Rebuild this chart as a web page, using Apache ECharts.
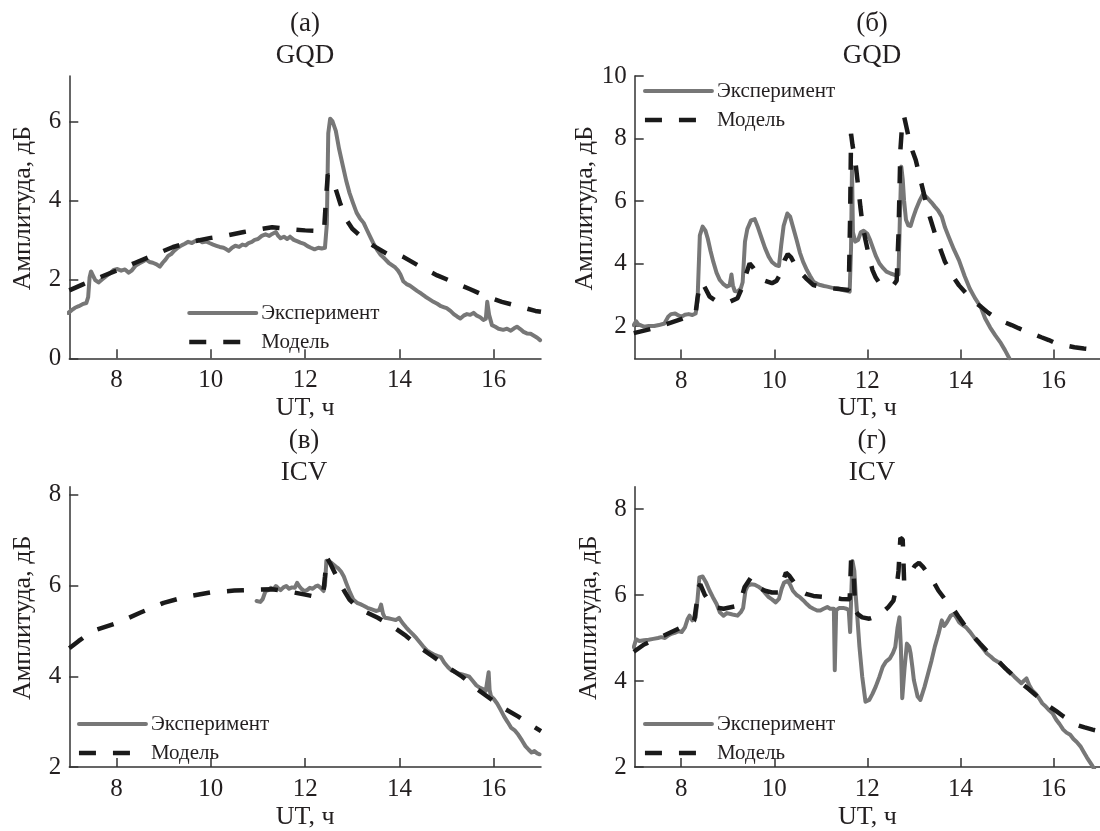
<!DOCTYPE html>
<html>
<head>
<meta charset="utf-8">
<script src="https://cdn.jsdelivr.net/npm/echarts@6/dist/echarts.min.js"></script>
<style>
html,body{margin:0;padding:0;background:#fff;}
#c{width:1100px;height:831px;}
</style>
</head>
<body>
<div id="c"></div>
<script>
// ---- data (UT hours, amplitude dB) ----
const panelLabels = ['(а)\nGQD', '(б)\nGQD', '(в)\nICV', '(г)\nICV'];
const seriesNames = ['Эксперимент', 'Модель'];
const xTicks = [8, 10, 12, 14, 16];
const yTicksA = [0, 2, 4, 6];
const yTicksB = [2, 4, 6, 8, 10];
const yTicksC = [2, 4, 6, 8];
const yTicksD = [2, 4, 6, 8];

const expA = [[6.98,1.15],[7.05,1.22],[7.12,1.28],[7.2,1.32],[7.28,1.37],[7.36,1.4],[7.4,1.55],[7.43,2.05],[7.46,2.2],[7.5,2.1],[7.55,1.98],[7.62,1.92],[7.7,2.0],[7.78,2.08],[7.86,2.15],[7.94,2.24],[8.02,2.26],[8.1,2.22],[8.18,2.25],[8.26,2.17],[8.32,2.22],[8.4,2.34],[8.48,2.4],[8.56,2.45],[8.63,2.5],[8.7,2.44],[8.77,2.42],[8.85,2.38],[8.92,2.32],[8.98,2.42],[9.04,2.5],[9.1,2.6],[9.16,2.64],[9.22,2.72],[9.3,2.8],[9.38,2.86],[9.45,2.9],[9.52,2.95],[9.6,2.92],[9.67,2.97],[9.74,3.0],[9.82,2.94],[9.9,2.96],[9.97,2.92],[10.05,2.88],[10.12,2.85],[10.19,2.82],[10.27,2.8],[10.33,2.76],[10.38,2.72],[10.45,2.8],[10.52,2.85],[10.6,2.82],[10.67,2.88],[10.74,2.86],[10.8,2.92],[10.87,2.95],[10.93,3.0],[11.0,3.02],[11.08,3.1],[11.16,3.14],[11.24,3.1],[11.3,3.15],[11.38,3.2],[11.43,3.1],[11.48,3.04],[11.55,3.08],[11.62,3.02],[11.68,3.08],[11.76,3.0],[11.84,2.96],[11.9,2.93],[11.98,2.9],[12.05,2.84],[12.12,2.8],[12.2,2.76],[12.28,2.8],[12.35,2.78],[12.42,2.8],[12.46,3.4],[12.49,5.7],[12.53,6.07],[12.58,6.0],[12.65,5.76],[12.72,5.3],[12.8,4.87],[12.87,4.5],[12.94,4.19],[13.01,3.95],[13.09,3.69],[13.16,3.55],[13.24,3.43],[13.31,3.25],[13.39,3.05],[13.46,2.88],[13.54,2.72],[13.6,2.62],[13.69,2.52],[13.77,2.42],[13.84,2.36],[13.91,2.3],[13.97,2.22],[14.02,2.12],[14.08,1.95],[14.15,1.88],[14.22,1.84],[14.3,1.77],[14.38,1.7],[14.46,1.64],[14.55,1.56],[14.63,1.5],[14.72,1.43],[14.8,1.38],[14.88,1.32],[14.95,1.29],[15.0,1.27],[15.08,1.2],[15.15,1.12],[15.22,1.06],[15.29,1.01],[15.36,1.08],[15.43,1.12],[15.5,1.1],[15.57,1.15],[15.64,1.08],[15.71,1.04],[15.78,0.97],[15.83,1.0],[15.86,1.43],[15.9,1.1],[15.96,0.84],[16.03,0.8],[16.1,0.75],[16.2,0.72],[16.28,0.75],[16.36,0.7],[16.43,0.76],[16.49,0.8],[16.56,0.74],[16.63,0.67],[16.7,0.63],[16.78,0.62],[16.85,0.57],[16.92,0.52],[16.98,0.46]];
const modelA = [[7.0,1.72],[7.3,1.88],[7.6,2.03],[8.0,2.22],[8.4,2.42],[8.8,2.62],[9.2,2.82],[9.6,2.95],[10.0,3.05],[10.3,3.1],[10.7,3.2],[11.1,3.28],[11.3,3.32],[11.6,3.28],[12.0,3.24],[12.4,3.22],[12.44,4.0],[12.48,4.66],[12.55,4.55],[12.65,4.28],[12.75,3.9],[12.87,3.52],[13.0,3.28],[13.17,3.1],[13.46,2.84],[13.76,2.63],[13.9,2.66],[14.08,2.57],[14.5,2.28],[14.8,2.1],[15.18,1.91],[15.5,1.75],[15.85,1.56],[16.17,1.43],[16.52,1.32],[16.88,1.2],[17.0,1.18]];

const expB = [[6.98,2.03],[7.03,2.15],[7.08,2.05],[7.2,1.98],[7.3,2.0],[7.42,2.0],[7.52,2.03],[7.64,2.08],[7.72,2.3],[7.78,2.38],[7.87,2.4],[7.95,2.33],[8.01,2.3],[8.08,2.36],[8.16,2.38],[8.24,2.35],[8.31,2.4],[8.35,2.8],[8.4,4.9],[8.46,5.18],[8.52,5.05],[8.57,4.8],[8.63,4.4],[8.69,4.05],[8.76,3.7],[8.83,3.47],[8.9,3.35],[8.98,3.26],[9.04,3.3],[9.08,3.65],[9.11,3.3],[9.15,3.12],[9.21,3.1],[9.28,3.2],[9.32,3.4],[9.37,4.7],[9.42,5.1],[9.5,5.38],[9.58,5.42],[9.65,5.15],[9.73,4.8],[9.8,4.5],[9.88,4.22],[9.95,4.05],[10.03,3.95],[10.1,3.92],[10.15,4.6],[10.2,5.2],[10.28,5.6],[10.34,5.5],[10.4,5.18],[10.48,4.75],[10.55,4.35],[10.62,4.05],[10.7,3.79],[10.77,3.6],[10.84,3.42],[10.92,3.35],[10.99,3.31],[11.07,3.28],[11.14,3.26],[11.25,3.22],[11.37,3.2],[11.5,3.14],[11.62,3.1],[11.65,4.5],[11.67,7.1],[11.69,5.0],[11.74,4.7],[11.8,4.75],[11.86,5.0],[11.92,5.05],[12.0,4.95],[12.06,4.75],[12.11,4.54],[12.18,4.25],[12.26,4.0],[12.34,3.85],[12.41,3.74],[12.5,3.68],[12.6,3.63],[12.67,3.65],[12.7,5.5],[12.73,7.1],[12.76,6.7],[12.79,6.0],[12.83,5.4],[12.88,5.22],[12.93,5.2],[12.98,5.45],[13.04,5.71],[13.12,6.0],[13.19,6.2],[13.25,6.15],[13.3,6.08],[13.38,5.95],[13.45,5.82],[13.52,5.7],[13.6,5.5],[13.67,5.15],[13.75,4.85],[13.86,4.45],[13.97,4.1],[14.09,3.6],[14.2,3.2],[14.31,2.9],[14.44,2.6],[14.53,2.25],[14.64,1.95],[14.75,1.7],[14.87,1.45],[14.96,1.22],[15.05,0.97]];
const modelB = [[6.98,1.77],[7.42,1.93],[8.0,2.22],[8.31,2.42],[8.35,2.9],[8.4,3.3],[8.45,3.4],[8.52,3.2],[8.61,2.94],[8.75,2.8],[8.91,2.73],[9.05,2.78],[9.21,2.89],[9.3,3.2],[9.38,3.6],[9.47,4.0],[9.53,3.9],[9.65,3.63],[9.8,3.45],[9.95,3.37],[10.05,3.45],[10.14,3.69],[10.22,4.1],[10.29,4.3],[10.36,4.2],[10.45,3.95],[10.55,3.74],[10.7,3.5],[10.84,3.31],[11.05,3.24],[11.29,3.2],[11.6,3.15],[11.63,5.5],[11.65,8.15],[11.68,7.8],[11.74,7.3],[11.8,6.5],[11.85,5.82],[11.9,5.2],[11.96,4.75],[12.04,4.2],[12.11,3.79],[12.18,3.55],[12.26,3.37],[12.4,3.32],[12.56,3.31],[12.63,3.45],[12.67,4.97],[12.71,7.63],[12.75,8.5],[12.79,8.7],[12.85,8.3],[12.9,7.95],[12.97,7.6],[13.04,7.31],[13.13,6.75],[13.23,6.14],[13.34,5.5],[13.45,4.97],[13.56,4.5],[13.67,4.05],[13.77,3.8],[13.87,3.52],[13.97,3.3],[14.12,3.05],[14.27,2.8],[14.44,2.62],[14.6,2.42],[14.72,2.3],[14.9,2.15],[15.1,2.03],[15.25,1.93],[15.42,1.82],[15.6,1.72],[15.74,1.64],[15.9,1.55],[16.05,1.45],[16.25,1.38],[16.45,1.32],[16.65,1.28],[16.84,1.25],[17.0,1.23]];

const expC = [[10.97,5.66],[11.05,5.64],[11.1,5.7],[11.16,5.88],[11.22,5.9],[11.27,5.95],[11.33,5.92],[11.38,5.99],[11.43,5.94],[11.48,5.9],[11.54,5.96],[11.6,5.99],[11.66,5.93],[11.72,5.96],[11.78,5.95],[11.83,6.06],[11.88,5.98],[11.93,5.92],[11.98,5.88],[12.04,5.9],[12.1,5.95],[12.16,5.93],[12.22,5.98],[12.27,6.0],[12.33,5.95],[12.39,5.88],[12.42,6.0],[12.45,6.55],[12.5,6.53],[12.56,6.5],[12.65,6.42],[12.7,6.38],[12.76,6.31],[12.82,6.2],[12.87,6.06],[12.95,5.85],[13.02,5.69],[13.1,5.62],[13.17,5.59],[13.25,5.55],[13.32,5.51],[13.4,5.48],[13.5,5.44],[13.57,5.46],[13.61,5.58],[13.65,5.38],[13.69,5.29],[13.76,5.28],[13.84,5.26],[13.92,5.24],[13.99,5.29],[14.06,5.18],[14.14,5.08],[14.21,5.0],[14.28,4.93],[14.36,4.84],[14.43,4.75],[14.5,4.66],[14.58,4.57],[14.66,4.52],[14.73,4.48],[14.8,4.45],[14.88,4.42],[14.95,4.3],[15.03,4.2],[15.1,4.13],[15.18,4.1],[15.25,4.06],[15.33,4.04],[15.4,4.02],[15.48,3.99],[15.55,3.9],[15.63,3.8],[15.7,3.75],[15.77,3.72],[15.83,3.68],[15.87,3.7],[15.89,4.09],[15.91,3.7],[15.94,3.56],[16.0,3.5],[16.07,3.4],[16.15,3.25],[16.22,3.11],[16.3,2.98],[16.37,2.86],[16.45,2.8],[16.52,2.71],[16.6,2.58],[16.67,2.46],[16.74,2.38],[16.8,2.32],[16.86,2.35],[16.92,2.3],[16.97,2.28]];
const modelC = [[7.0,4.62],[7.2,4.78],[7.5,5.0],[8.0,5.17],[8.5,5.4],[9.0,5.62],[9.5,5.76],[10.0,5.85],[10.5,5.89],[11.0,5.91],[11.3,5.92],[11.6,5.88],[12.0,5.8],[12.2,5.76],[12.38,5.8],[12.42,6.2],[12.46,6.62],[12.53,6.49],[12.62,6.3],[12.72,6.09],[12.83,5.88],[12.94,5.69],[13.08,5.55],[13.24,5.44],[13.54,5.29],[13.84,5.11],[14.14,4.89],[14.43,4.64],[14.73,4.42],[15.03,4.2],[15.33,3.99],[15.63,3.73],[15.92,3.51],[16.22,3.29],[16.52,3.11],[16.75,2.95],[17.0,2.79]];

const expD = [[6.98,4.79],[7.03,4.97],[7.1,4.93],[7.2,4.95],[7.3,4.96],[7.4,4.98],[7.5,5.0],[7.57,5.02],[7.65,5.0],[7.72,5.06],[7.79,5.1],[7.86,5.12],[7.94,5.16],[8.01,5.14],[8.08,5.25],[8.14,5.45],[8.18,5.52],[8.24,5.41],[8.31,5.48],[8.35,5.9],[8.39,6.41],[8.46,6.43],[8.53,6.3],[8.61,6.1],[8.68,5.95],[8.76,5.79],[8.83,5.6],[8.91,5.52],[8.98,5.58],[9.06,5.56],[9.13,5.54],[9.21,5.52],[9.28,5.6],[9.33,5.7],[9.38,6.1],[9.43,6.22],[9.5,6.25],[9.58,6.24],[9.65,6.2],[9.73,6.14],[9.8,6.05],[9.88,5.95],[9.95,5.9],[10.03,5.83],[10.1,5.91],[10.16,6.15],[10.21,6.29],[10.29,6.33],[10.35,6.22],[10.4,6.1],[10.48,6.0],[10.55,5.95],[10.62,5.88],[10.7,5.79],[10.77,5.72],[10.84,5.68],[10.92,5.64],[10.99,5.64],[11.06,5.68],[11.14,5.72],[11.2,5.68],[11.28,5.68],[11.3,4.25],[11.33,5.65],[11.4,5.7],[11.48,5.7],[11.55,5.68],[11.6,5.65],[11.63,5.14],[11.66,6.2],[11.68,6.79],[11.72,6.56],[11.75,6.0],[11.78,5.56],[11.83,4.8],[11.89,4.1],[11.96,3.52],[12.04,3.56],[12.11,3.7],[12.18,3.87],[12.26,4.1],[12.33,4.33],[12.4,4.45],[12.48,4.52],[12.55,4.65],[12.6,4.79],[12.65,5.25],[12.69,5.48],[12.72,4.8],[12.75,3.6],[12.77,3.56],[12.8,4.3],[12.85,4.87],[12.9,4.8],[12.93,4.64],[12.97,4.3],[13.0,4.02],[13.08,3.64],[13.14,3.56],[13.23,3.87],[13.3,4.15],[13.38,4.48],[13.45,4.8],[13.53,5.1],[13.6,5.41],[13.65,5.28],[13.7,5.35],[13.79,5.52],[13.86,5.56],[13.93,5.45],[13.97,5.37],[14.05,5.3],[14.12,5.25],[14.2,5.15],[14.27,5.05],[14.34,4.95],[14.42,4.85],[14.5,4.74],[14.57,4.64],[14.65,4.57],[14.72,4.5],[14.8,4.45],[14.87,4.41],[14.95,4.3],[15.02,4.24],[15.09,4.18],[15.16,4.1],[15.24,4.02],[15.31,3.95],[15.36,4.0],[15.42,4.06],[15.48,3.9],[15.54,3.79],[15.62,3.7],[15.69,3.6],[15.76,3.48],[15.84,3.4],[15.91,3.32],[15.98,3.25],[16.06,3.1],[16.13,3.0],[16.21,2.87],[16.28,2.8],[16.36,2.75],[16.43,2.65],[16.5,2.58],[16.58,2.48],[16.65,2.35],[16.72,2.22],[16.78,2.12],[16.84,2.02],[16.9,1.9]];
const modelD = [[6.98,4.68],[7.2,4.85],[7.42,4.95],[7.79,5.14],[8.16,5.33],[8.28,5.41],[8.33,5.8],[8.37,6.18],[8.41,6.25],[8.5,6.02],[8.6,5.85],[8.69,5.72],[8.91,5.68],[9.21,5.75],[9.3,5.95],[9.36,6.18],[9.5,6.41],[9.58,6.3],[9.65,6.18],[9.8,6.1],[9.95,6.06],[10.1,6.06],[10.18,6.3],[10.25,6.52],[10.32,6.45],[10.4,6.33],[10.55,6.1],[10.7,6.02],[10.84,5.98],[11.14,5.95],[11.44,5.91],[11.62,5.9],[11.65,6.8],[11.68,6.79],[11.7,6.64],[11.74,5.64],[11.8,5.55],[11.89,5.48],[12.04,5.45],[12.18,5.5],[12.33,5.6],[12.45,5.72],[12.56,5.87],[12.63,6.2],[12.67,6.56],[12.71,7.33],[12.76,7.29],[12.79,6.33],[12.85,6.35],[12.93,6.52],[13.02,6.68],[13.11,6.75],[13.2,6.65],[13.26,6.56],[13.4,6.35],[13.53,6.1],[13.67,5.9],[13.82,5.72],[13.97,5.48],[14.12,5.25],[14.27,5.05],[14.42,4.87],[14.57,4.7],[14.72,4.56],[14.87,4.4],[15.01,4.25],[15.16,4.1],[15.31,3.95],[15.46,3.82],[15.61,3.68],[15.76,3.55],[15.91,3.41],[16.06,3.3],[16.21,3.18],[16.36,3.08],[16.5,2.98],[16.67,2.92],[16.84,2.87],[17.0,2.83]];

// ---- layout ----
const FONT = "'Liberation Serif', 'DejaVu Serif', serif";
const TXT = '#231f20';
const grids = [
  {left: 69.3, top: 76, width: 471.7, height: 282.3},
  {left: 634.7, top: 76, width: 473, height: 282.5},
  {left: 69.3, top: 486.7, width: 471.7, height: 283.3},
  {left: 634.7, top: 486.7, width: 473, height: 282.6}
];
const yRanges = [[0, 7.15], [0.96, 10], [2, 8.18], [2, 8.52]];
const yTicks = [yTicksA, yTicksB, yTicksC, yTicksD];
const expData = [expA, expB, expC, expD];
const modelData = [modelA, modelB, modelC, modelD];
const titleX = [305, 872, 304, 872];
const titleY = [8, 8, 425, 425];
const legendPos = [[187, 301], [642.7, 79], [76.7, 712], [642.7, 712]];

const axisLineStyle = {color: '#333', width: 1.5};

const option = {
  animation: false,
  backgroundColor: '#fff',
  title: panelLabels.map((t, i) => ({
    text: t, left: titleX[i], top: titleY[i], textAlign: 'center', padding: 0,
    textStyle: {fontFamily: FONT, fontSize: 27, fontWeight: 'normal', color: TXT, lineHeight: 32}
  })),
  legend: legendPos.map((p, i) => ({
    data: seriesNames, orient: 'vertical', left: p[0], top: p[1], padding: 0,
    itemWidth: 67, itemHeight: 14, itemGap: 5, selectedMode: false,
    lineStyle: {width: 'inherit'},
    itemStyle: {opacity: 0, borderWidth: 0},
    textStyle: {fontFamily: FONT, fontSize: 21, color: TXT, lineHeight: 24}
  })),
  grid: grids.map(g => Object.assign({containLabel: false}, g)),
  xAxis: grids.map((g, i) => ({
    type: 'value', gridIndex: i, min: 7, max: 17,
    name: 'UT, ч', nameLocation: 'middle', nameGap: 37,
    nameTextStyle: {fontFamily: FONT, fontSize: 26, color: TXT},
    axisLine: {show: true, onZero: false, lineStyle: axisLineStyle},
    axisTick: {show: true, inside: true, length: 9, customValues: xTicks, lineStyle: axisLineStyle},
    axisLabel: {show: true, customValues: xTicks, margin: 10, fontFamily: FONT, fontSize: 25, color: TXT},
    splitLine: {show: false}
  })),
  yAxis: grids.map((g, i) => ({
    type: 'value', gridIndex: i, min: yRanges[i][0], max: yRanges[i][1],
    name: 'Амплитуда, дБ', nameLocation: 'middle', nameGap: 33,
    nameTextStyle: {fontFamily: FONT, fontSize: 26, color: TXT, padding: [0, 0, 0, 18]},
    axisLine: {show: true, onZero: false, lineStyle: axisLineStyle},
    axisTick: {show: true, inside: true, length: 9, customValues: yTicks[i], lineStyle: axisLineStyle},
    axisLabel: {show: true, customValues: yTicks[i], margin: 8, fontFamily: FONT, fontSize: 25, color: TXT},
    splitLine: {show: false}
  })),
  series: []
};

for (let i = 0; i < 4; i++) {
  option.series.push({
    name: seriesNames[0], type: 'line', xAxisIndex: i, yAxisIndex: i,
    data: expData[i], showSymbol: false, symbol: 'none', smooth: false, clip: true, z: 2,
    lineStyle: {color: '#777', width: 4, cap: 'round', join: 'round'},
    itemStyle: {color: '#777'}
  });
  option.series.push({
    name: seriesNames[1], type: 'line', xAxisIndex: i, yAxisIndex: i,
    data: modelData[i], showSymbol: false, symbol: 'none', smooth: false, clip: true, z: 3,
    lineStyle: {color: '#1a1a1a', width: 4.5, type: [17, 17], cap: 'butt'},
    itemStyle: {color: '#1a1a1a'}
  });
}

const chart = echarts.init(document.getElementById('c'), null, {renderer: 'canvas'});
chart.setOption(option);
</script>
</body>
</html>
